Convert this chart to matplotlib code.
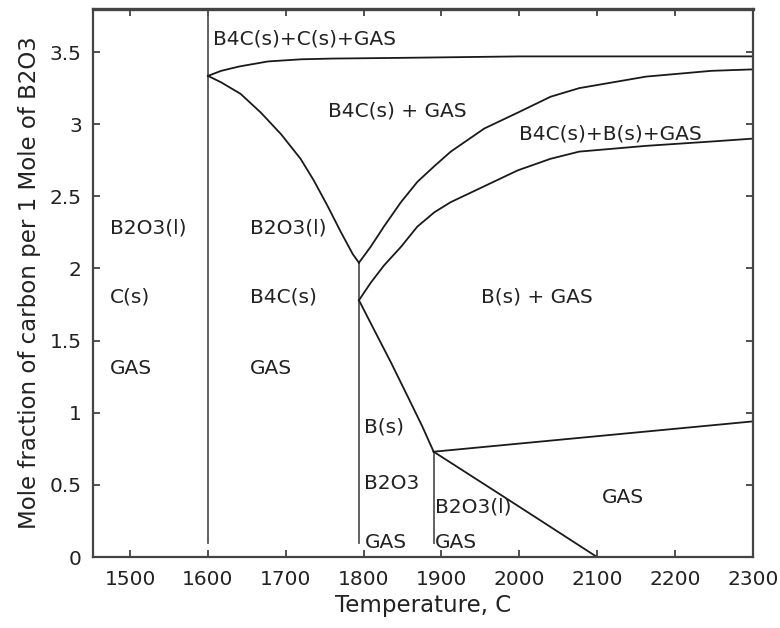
import matplotlib
matplotlib.use("Agg")
import matplotlib.pyplot as plt

# Phase boundaries (temperature in C, mole ratio C/B2O3)
t_1600_line = [1600, 1600]
y_1600_line = [0.10, 3.80]

t_top = [1600, 1617, 1640, 1677, 1720, 1760, 1850, 2000, 2150, 2300]
y_top = [3.335, 3.37, 3.40, 3.435, 3.45, 3.455, 3.46, 3.47, 3.47, 3.47]

t_b4c_upper = [1600, 1617, 1642, 1668, 1694, 1719, 1736, 1754, 1771, 1786, 1794]
y_b4c_upper = [3.335, 3.29, 3.21, 3.08, 2.93, 2.76, 2.61, 2.43, 2.25, 2.10, 2.04]

t_1794_line = [1794, 1794]
y_1794_line = [0.10, 2.04]

t_gas_upper = [1794, 1809, 1826, 1848, 1869, 1891, 1912, 1955, 1998, 2040, 2077, 2163, 2247, 2300]
y_gas_upper = [2.04, 2.15, 2.29, 2.46, 2.60, 2.71, 2.81, 2.97, 3.08, 3.19, 3.25, 3.33, 3.37, 3.38]

t_b_upper = [1794, 1809, 1826, 1848, 1869, 1891, 1912, 1955, 1998, 2040, 2077, 2163, 2247, 2300]
y_b_upper = [1.78, 1.90, 2.02, 2.15, 2.29, 2.39, 2.46, 2.57, 2.68, 2.76, 2.81, 2.85, 2.88, 2.90]

t_b_lower = [1794, 1813, 1835, 1856, 1875, 1890]
y_b_lower = [1.78, 1.58, 1.35, 1.12, 0.91, 0.73]

t_1890_line = [1890, 1890]
y_1890_line = [0.10, 0.73]

t_gas_line = [1890, 2300]
y_gas_line = [0.73, 0.94]

t_b2o3_end = [1890, 1991, 2100]
y_b2o3_end = [0.73, 0.38, 0.00]

# Region labels: (text, T, y)
labels = [
    ("B2O3(l)", 1474, 2.28), ("C(s)", 1474, 1.80), ("GAS", 1474, 1.31),
    ("B2O3(l)", 1654, 2.28), ("B4C(s)", 1654, 1.80), ("GAS", 1654, 1.31),
    ("B4C(s)+C(s)+GAS", 1606, 3.59),
    ("B4C(s) + GAS", 1754, 3.09),
    ("B4C(s)+B(s)+GAS", 2000, 2.93),
    ("B(s) + GAS", 1951, 1.80),
    ("B(s)", 1801, 0.90), ("B2O3", 1801, 0.51), ("GAS", 1801, 0.10),
    ("B2O3(l)", 1892, 0.35), ("GAS", 1892, 0.10),
    ("GAS", 2106, 0.41),
]

x_ticks = [1500, 1600, 1700, 1800, 1900, 2000, 2100, 2200, 2300]
y_ticks = [0, 0.5, 1, 1.5, 2, 2.5, 3, 3.5]
y_tick_labels = ["0", "0.5", "1", "1.5", "2", "2.5", "3", "3.5"]

plt.rcParams["font.family"] = ["DejaVu Sans"]

fig = plt.figure(figsize=(7.8, 6.28), dpi=100)
ax = fig.add_axes([0.119, 0.113, 0.846, 0.873])

black = "#1a1a1a"
grey = "#555555"
lw = 1.3

ax.plot(t_1600_line, y_1600_line, color=grey, lw=lw)
ax.plot(t_1794_line, y_1794_line, color=grey, lw=lw)
ax.plot(t_1890_line, y_1890_line, color=grey, lw=lw)
for t, y in [(t_top, y_top), (t_b4c_upper, y_b4c_upper), (t_gas_upper, y_gas_upper),
             (t_b_upper, y_b_upper), (t_b_lower, y_b_lower), (t_gas_line, y_gas_line),
             (t_b2o3_end, y_b2o3_end)]:
    ax.plot(t, y, color=black, lw=lw, solid_joinstyle="round")

for text, t, y in labels:
    ax.text(t, y, text, fontsize=14.5, color="#222222", ha="left", va="center")

ax.set_xlim(1452, 2300)
ax.set_ylim(0, 3.8)
ax.set_xticks(x_ticks)
ax.set_yticks(y_ticks)
ax.set_yticklabels(y_tick_labels)
ax.tick_params(direction="in", length=5, width=1.2, colors="#333333",
               labelsize=14.5, top=True, right=True, pad=9)
ax.tick_params(axis="y", pad=8)
ax.tick_params(labelcolor="#222222")

for side, sp in ax.spines.items():
    sp.set_color("#444444")
    sp.set_linewidth(1.6)
ax.spines["top"].set_linewidth(2.4)

ax.set_xlabel("Temperature, C", fontsize=16.5, color="#222222", labelpad=4)
ax.set_ylabel("Mole fraction of carbon per 1 Mole of B2O3", fontsize=16.5,
              color="#222222", labelpad=6)

fig.savefig("out.png", dpi=100)
